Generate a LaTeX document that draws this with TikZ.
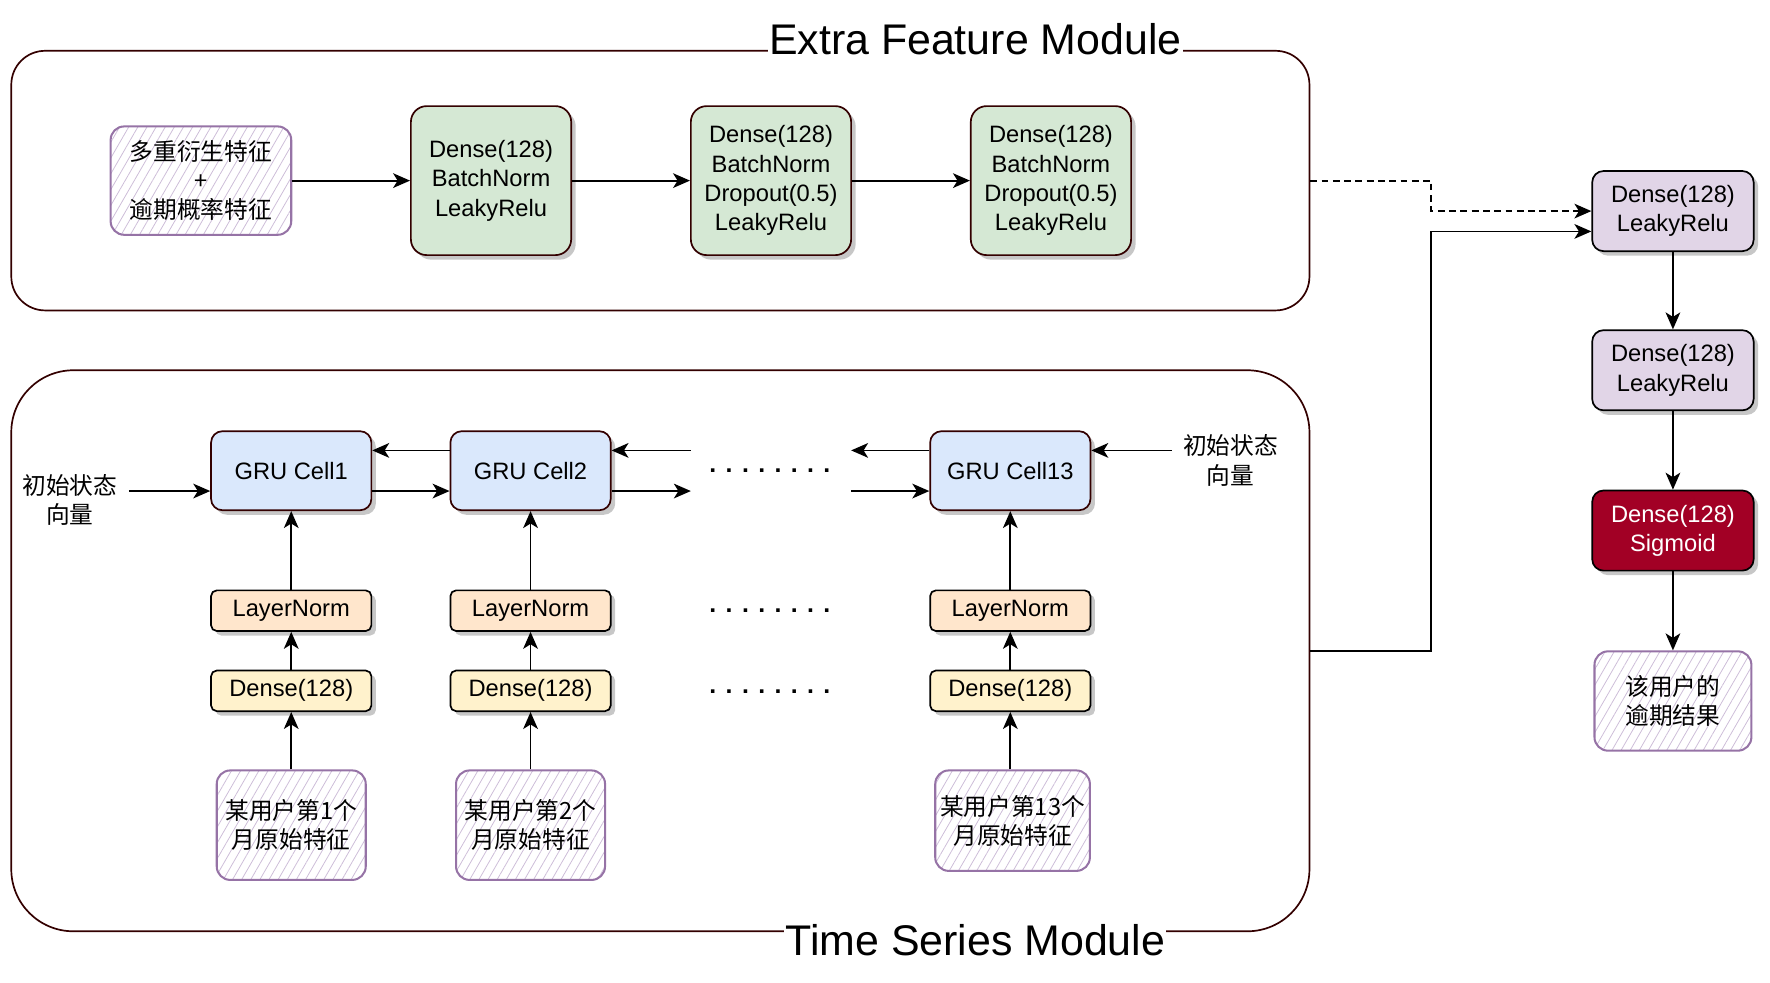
\documentclass[tikz,border=0pt]{standalone}
\usepackage{fontspec}
\setmainfont{Liberation Sans}
\newfontfamily\cjk{Noto Sans CJK SC}
\usetikzlibrary{arrows.meta,shadows,patterns.meta,calc}
\definecolor{darkbrd}{HTML}{330000}
\definecolor{greenfill}{HTML}{D5E8D4}
\definecolor{bluefill}{HTML}{DAE8FC}
\definecolor{orangefill}{HTML}{FFE6CC}
\definecolor{yellowfill}{HTML}{FFF2CC}
\definecolor{purplefill}{HTML}{E1D5E7}
\definecolor{redfill}{HTML}{A20025}
\definecolor{sketchbrd}{HTML}{9673A6}
\definecolor{hatchcol}{HTML}{CDBDD8}
\newcommand\mydotrow{.\hspace{8.3pt}.\hspace{8.3pt}.\hspace{8.3pt}.\hspace{8.3pt}.\hspace{8.3pt}.\hspace{8.3pt}.\hspace{8.3pt}.}
\begin{document}
\begin{tikzpicture}[x=1pt,y=-1pt,
  every node/.style={font=\fontsize{21}{26}\selectfont},
  shad/.style={drop shadow={shadow xshift=4pt,shadow yshift=-4pt,fill=black,opacity=0.22}},
  blk/.style={draw, line width=1.5pt, align=center, inner sep=0pt, shad},
  greenbox/.style={blk, draw=darkbrd, fill=greenfill, rounded corners=14pt, minimum width=142pt, minimum height=132pt},
  grubox/.style={blk, draw=darkbrd, fill=bluefill, rounded corners=10pt, minimum width=142pt, minimum height=70pt},
  lnbox/.style={blk, draw=black, fill=orangefill, rounded corners=5pt, minimum width=142pt, minimum height=36pt},
  dnbox/.style={blk, draw=black, fill=yellowfill, rounded corners=5pt, minimum width=142pt, minimum height=36pt},
  pbox/.style={blk, draw=black, fill=purplefill, rounded corners=10pt, minimum width=143pt, minimum height=71pt},
  redbox/.style={pbox, fill=redfill, text=white},
  sketch/.style={draw=sketchbrd, line width=1.8pt, rounded corners=12pt, align=center, inner sep=0pt,
    pattern={Lines[angle=60,distance=7pt,line width=0.7pt]}, pattern color=hatchcol,
    font=\cjk\fontsize{21}{26}\selectfont},
  cjklabel/.style={align=center, inner xsep=10pt, inner ysep=0pt, font=\cjk\fontsize{21}{26}\selectfont},
  container/.style={draw=darkbrd, line width=1.5pt, inner sep=0pt},
  arr/.style={-{Stealth[length=15pt,width=13pt,inset=4pt]}, line width=1.6pt},
  titletext/.style={fill=white, inner sep=1pt, font=\fontsize{38}{40}\selectfont},
  dotrow/.style={inner sep=0pt, anchor=base, font=\fontsize{22}{26}\selectfont\bfseries}
]
\useasboundingbox (0,0) rectangle (1568,870);

% containers
\node[container, rounded corners=30pt, minimum width=1150pt, minimum height=230pt] (efm) at (585,160) {};
\node[container, rounded corners=55pt, minimum width=1150pt, minimum height=497pt] (tsm) at (585,576.5) {};
\node[titletext, anchor=base] (eft) at (864,48) {Extra Feature Module};
\node[titletext, anchor=base] (tst) at (864,846) {Time Series Module};

% extra feature module
\node[sketch, minimum width=160pt, minimum height=96pt] (ef0) at (178,160) {多重衍生特征\\+\\逾期概率特征};
\node[greenbox] (ef1) at (435,160) {Dense(128)\\BatchNorm\\LeakyRelu};
\node[greenbox] (ef2) at (683,160) {Dense(128)\\BatchNorm\\Dropout(0.5)\\LeakyRelu};
\node[greenbox] (ef3) at (931,160) {Dense(128)\\BatchNorm\\Dropout(0.5)\\LeakyRelu};
\draw[arr] (ef0.east) -- (ef1.west);
\draw[arr] (ef1.east) -- (ef2.west);
\draw[arr] (ef2.east) -- (ef3.west);

% right column
\node[pbox] (p1) at (1482,187) {Dense(128)\\LeakyRelu};
\node[pbox] (p2) at (1482,328) {Dense(128)\\LeakyRelu};
\node[redbox] (p3) at (1482,470) {Dense(128)\\Sigmoid};
\node[sketch, minimum width=139pt, minimum height=88pt] (out) at (1482,621) {该用户的\\逾期结果};
\draw[arr] (p1.south) -- (p2.north);
\draw[arr] (p2.south) -- (p3.north);
\draw[arr] (p3.south) -- (out.north);

\coordinate (bend) at (1268,0);
\coordinate (p1in2) at ($(p1.west)+(0,18)$);
\draw[arr, dash pattern=on 6pt off 4pt] (efm.east) -- (efm.east -| bend) |- (p1.west);
\draw[arr] (tsm.east) -- (tsm.east -| bend) |- (p1in2);

% time series module
\node[grubox] (g1) at (258,417) {GRU Cell1};
\node[grubox] (g2) at (470,417) {GRU Cell2};
\node[grubox] (g13) at (895,417) {GRU Cell13};
\node[lnbox] (ln1) at (258,541) {LayerNorm};
\node[lnbox] (ln2) at (470,541) {LayerNorm};
\node[lnbox] (ln13) at (895,541) {LayerNorm};
\node[dnbox] (dn1) at (258,612) {Dense(128)};
\node[dnbox] (dn2) at (470,612) {Dense(128)};
\node[dnbox] (dn13) at (895,612) {Dense(128)};
\node[sketch, minimum width=132pt, minimum height=97pt] (in1) at (258,731) {某用户第1个\\月原始特征};
\node[sketch, minimum width=132pt, minimum height=97pt] (in2) at (470,731) {某用户第2个\\月原始特征};
\node[sketch, minimum width=137pt, minimum height=89pt] (in13) at (897,727) {某用户第13个\\月原始特征};

\draw[arr] (in1.north) -- (dn1.south);
\draw[arr] (dn1.north) -- (ln1.south);
\draw[arr] (ln1.north) -- (g1.south);
\draw[arr] (in2.north) -- (dn2.south);
\draw[arr] (dn2.north) -- (ln2.south);
\draw[arr] (ln2.north) -- (g2.south);
\draw[arr] (dn13.south |- in13.north) -- (dn13.south);
\draw[arr] (dn13.north) -- (ln13.south);
\draw[arr] (ln13.north) -- (g13.south);

\draw[arr] ($(g2.west)+(0,-18)$) -- ($(g1.east)+(0,-18)$);
\draw[arr] ($(g1.east)+(0,18)$) -- ($(g2.west)+(0,18)$);
\coordinate (c2u) at (612,399);
\coordinate (c2l) at (612,435);
\draw[arr] (c2u) -- ($(g2.east)+(0,-18)$);
\draw[arr] ($(g2.east)+(0,18)$) -- (c2l);
\coordinate (c13u) at (754,399);
\coordinate (c13l) at (754,435);
\draw[arr] ($(g13.west)+(0,-18)$) -- (c13u);
\draw[arr] (c13l) -- ($(g13.west)+(0,18)$);

\node[cjklabel] (initL) at (62,443) {初始状态\\向量};
\coordinate (g1in) at ($(g1.west)+(0,18)$);
\draw[arr] (initL.east |- g1in) -- (g1in);
\node[cjklabel] (initR) at (1090,408) {初始状态\\向量};
\coordinate (g13in) at ($(g13.east)+(0,-18)$);
\draw[arr] (initR.west |- g13in) -- (g13in);

\node[dotrow] (dots1) at (682,419) {\mydotrow};
\node[dotrow] (dots2) at (682,543) {\mydotrow};
\node[dotrow] (dots3) at (682,614) {\mydotrow};
\end{tikzpicture}
\end{document}
